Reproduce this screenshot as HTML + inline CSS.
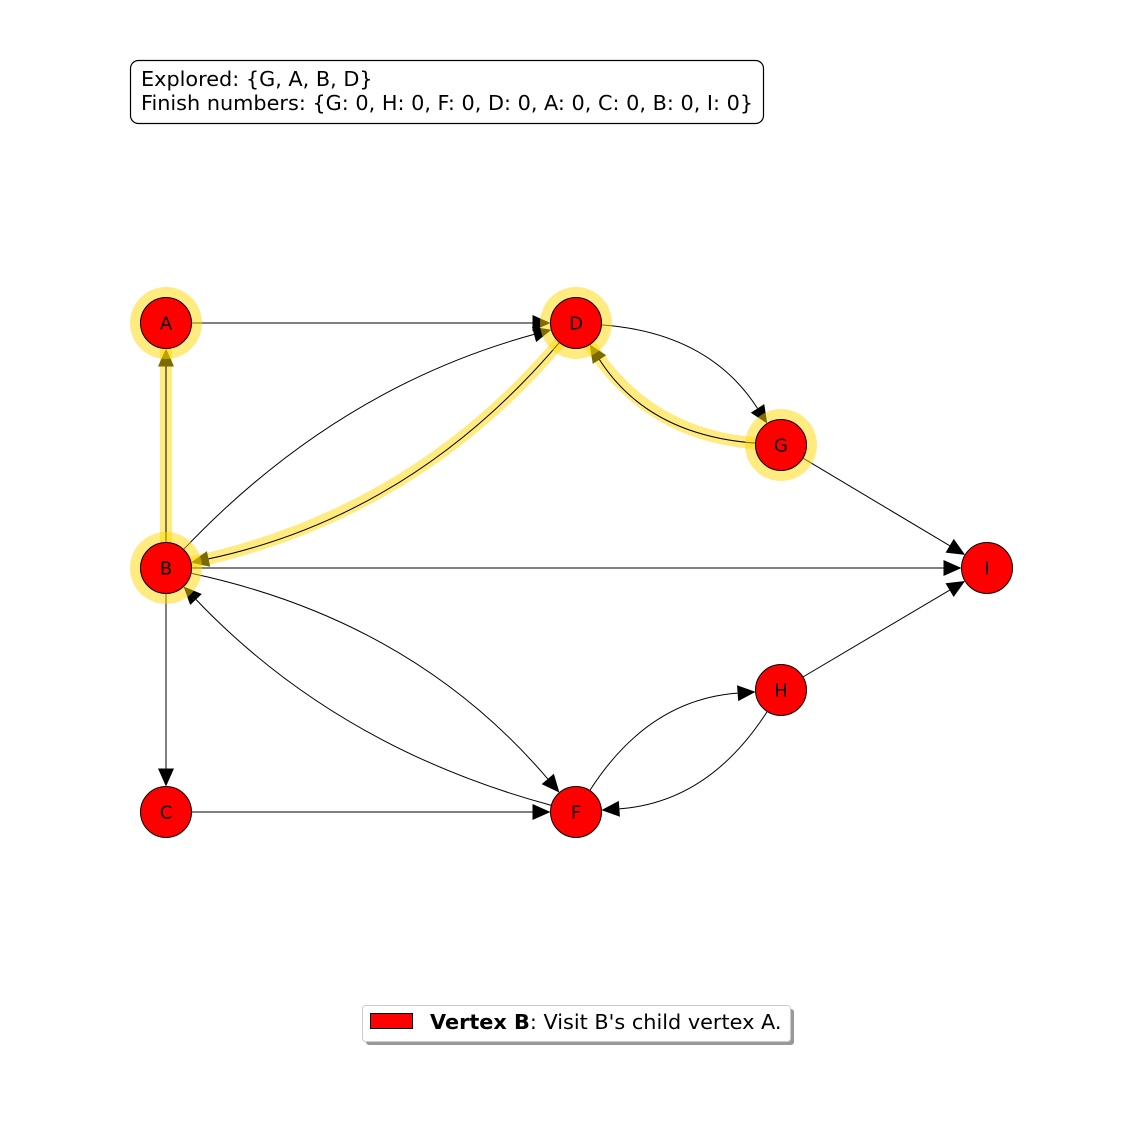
<!DOCTYPE html>
<html><head><meta charset="utf-8"><style>
html,body{margin:0;padding:0;background:#fff;}
svg{display:block;font-family:"DejaVu Sans","Liberation Sans",sans-serif;}
</style></head><body>
<svg id="chart" width="1125" height="1125" viewBox="0 0 1125 1125">
<g id="edges"></g>
<g id="nodes"></g>
<g>
<rect x="130.5" y="60.5" width="633" height="63" rx="8" fill="#fff" stroke="#000" stroke-width="1.2"/>
<text x="141" y="86" font-size="20.8">Explored: {G, A, B, D}</text>
<text x="141" y="110" font-size="20.8">Finish numbers: {G: 0, H: 0, F: 0, D: 0, A: 0, C: 0, B: 0, I: 0}</text>
</g>
<g>
<rect x="366" y="1009" width="428" height="36" rx="3" fill="#999"/>
<rect x="362.5" y="1005.5" width="428" height="36" rx="3" fill="#fff" stroke="#ccc" stroke-width="1"/>
<rect x="370.5" y="1013.5" width="42" height="15" fill="#f00" stroke="#000" stroke-width="1"/>
<text x="430" y="1029" font-size="20.8"><tspan font-weight="bold">Vertex B</tspan>: Visit B's child vertex A.</text>
</g>
</svg>
<script>
const nodeNames = ["A","D","G","B","I","H","C","F"];
const nodeX = [166,576,781,166,987,781,166,576];
const nodeY = [323,323,445,568,568,690,812,812];
const highlightedNodes = ["A","D","G","B"];
const edgeFrom = ["A","B","B","D","D","G","G","B","B","C","B","F","F","H","H"];
const edgeTo   = ["D","A","D","B","G","D","I","I","C","F","F","B","H","F","I"];
const edgeRad  = [0,0,0.14,0.17,0.25,0.25,0,0,0,0,0.17,0.14,0.25,0.25,0];
const highlightedEdges = ["B-A","D-B","G-D"];

const NS="http://www.w3.org/2000/svg";
const R=25.5;
const eg=document.getElementById('edges'), ng=document.getElementById('nodes');
function pos(n){const i=nodeNames.indexOf(n);return [nodeX[i],nodeY[i]];}
function mk(tag,attrs,parent){const e=document.createElementNS(NS,tag);for(const k in attrs)e.setAttribute(k,attrs[k]);parent.appendChild(e);return e;}
const hlLayer=mk('g',{},eg), lineLayer=mk('g',{},eg);
for(let i=0;i<edgeFrom.length;i++){
  const [x1,y1]=pos(edgeFrom[i]), [x2,y2]=pos(edgeTo[i]);
  const dx=x2-x1, dy=y2-y1, r=edgeRad[i];
  const cx=(x1+x2)/2+r*dy, cy=(y1+y2)/2-r*dx;
  let ux=cx-x1, uy=cy-y1; let l=Math.hypot(ux,uy); ux/=l; uy/=l;
  const sx=x1+R*ux, sy=y1+R*uy;
  let vx=x2-cx, vy=y2-cy; l=Math.hypot(vx,vy); vx/=l; vy/=l;
  const tx=x2-R*vx, ty=y2-R*vy;
  const hl=18, hw=8;
  const bx=tx-hl*vx, by=ty-hl*vy;
  const d=`M${sx},${sy} Q${cx},${cy} ${bx},${by}`;
  const key=edgeFrom[i]+'-'+edgeTo[i];
  const isHl=highlightedEdges.includes(key);
  const head=`${tx},${ty} ${bx-hw*vy},${by+hw*vx} ${bx+hw*vy},${by-hw*vx}`;
  if(isHl){
    const h=mk('path',{d:`M${sx},${sy} Q${cx},${cy} ${tx},${ty}`,fill:'none',stroke:'#ffd700','stroke-opacity':0.5,'stroke-width':12},hlLayer);
    
    
  }
  const p=mk('path',{d:d,fill:'none',stroke:'#000','stroke-width':1},lineLayer);
  
  
  const a=mk('polygon',{points:head,fill:isHl?'#7a6a00':'#000'},lineLayer);
  
  
}
for(let i=0;i<nodeNames.length;i++){
  const n=nodeNames[i];
  const g=mk('g',{},ng);
  
  
  if(highlightedNodes.includes(n)){
    const h=mk('circle',{cx:nodeX[i],cy:nodeY[i],r:36,fill:'#ffd700','fill-opacity':0.5},g);
    
    
  }
  const c=mk('circle',{cx:nodeX[i],cy:nodeY[i],r:R,fill:'#f00',stroke:'#000','stroke-width':1},g);
  
  
  const t=mk('text',{x:nodeX[i],y:nodeY[i]+6.5,'text-anchor':'middle','font-size':18},g);
  t.textContent=n;
  
  
}
</script>
</body></html>
